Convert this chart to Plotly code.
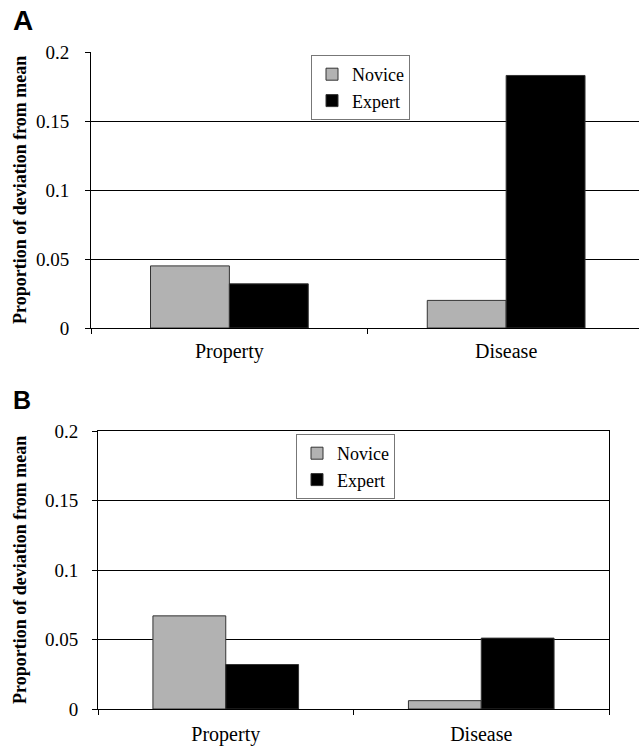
import plotly.graph_objects as go

# Deviation-from-mean proportions per task, for each group and panel
categories = ["Property", "Disease"]
groups = ["Novice", "Expert"]
panel_a_novice = [0.045, 0.020]
panel_a_expert = [0.032, 0.183]
panel_b_novice = [0.067, 0.006]
panel_b_expert = [0.032, 0.051]
y_ticks = [0, 0.05, 0.1, 0.15, 0.2]
y_tick_text = ["0", "0.05", "0.1", "0.15", "0.2"]

SERIF = "Liberation Serif"
SANS = "Liberation Sans"
colors = {"Novice": "#b2b2b2", "Expert": "#000000"}

fig = go.Figure()

panels = [
    ("x", "y", "legend", panel_a_novice, panel_a_expert),
    ("x2", "y2", "legend2", panel_b_novice, panel_b_expert),
]
for xa, ya, leg, nov, exp in panels:
    for name, vals in zip(groups, [nov, exp]):
        fig.add_trace(go.Bar(
            x=categories, y=vals, name=name, xaxis=xa, yaxis=ya, legend=leg,
            marker=dict(color=colors[name], line=dict(color="#333333", width=1)),
        ))

W, H = 639, 746

def px_x(v):
    return v / W

def px_y(v):
    return 1 - v / H

axis_common = dict(
    automargin=False,
    showline=True, linecolor="black", linewidth=1,
    ticks="outside", ticklen=5, tickcolor="black", tickwidth=1,
    zeroline=False,
)

legend_common = dict(
    xanchor="left", yanchor="top",
    bgcolor="white", bordercolor="#777777", borderwidth=1,
    font=dict(family=SERIF, size=18, color="black"),
    itemwidth=30, tracegroupgap=0,
)

fig.update_layout(
    template="none",
    width=W, height=H,
    margin=dict(l=0, r=0, t=0, b=0, autoexpand=False),
    font=dict(family=SERIF, color="black"),
    paper_bgcolor="white", plot_bgcolor="white",
    barmode="group", bargap=0.43, bargroupgap=0,
    showlegend=True,
    xaxis=dict(domain=[px_x(91), 1.0], anchor="y", type="category",
               range=[-0.5, 1.48], tickson="boundaries", showgrid=False,
               tickfont=dict(family=SERIF, size=20, color="black"),
               ticklabelstandoff=5, **axis_common),
    yaxis=dict(domain=[px_y(328), px_y(52)], anchor="x", range=[0, 0.2],
               tickvals=y_ticks, ticktext=y_tick_text,
               showgrid=True, gridcolor="black", gridwidth=1,
               tickfont=dict(family=SERIF, size=19, color="black"),
               ticklabelstandoff=12, **axis_common),
    xaxis2=dict(domain=[px_x(98), px_x(609)], anchor="y2", type="category",
                range=[-0.5, 1.5], tickson="boundaries", mirror=True, showgrid=False,
                tickfont=dict(family=SERIF, size=20, color="black"),
                ticklabelstandoff=7, **axis_common),
    yaxis2=dict(domain=[px_y(709), px_y(431)], anchor="x2", range=[0, 0.2],
                tickvals=y_ticks, ticktext=y_tick_text, mirror=True,
                showgrid=True, gridcolor="black", gridwidth=1,
                tickfont=dict(family=SERIF, size=19, color="black"),
                ticklabelstandoff=10, **axis_common),
    legend=dict(x=px_x(311), y=px_y(55), **legend_common),
    legend2=dict(x=px_x(296), y=px_y(434), **legend_common),
)

ytitle = "Proportion of deviation from mean"
annotations = [
    dict(text="<b>A</b>", x=px_x(23), y=px_y(20), xanchor="center", yanchor="middle",
         font=dict(family=SANS, size=28, color="black")),
    dict(text="<b>B</b>", x=px_x(22), y=px_y(400), xanchor="center", yanchor="middle",
         font=dict(family=SANS, size=25, color="black")),
    dict(text="<b>" + ytitle + "</b>", x=px_x(20), y=px_y(190), textangle=-90,
         xanchor="center", yanchor="middle",
         font=dict(family=SERIF, size=18, color="black")),
    dict(text="<b>" + ytitle + "</b>", x=px_x(20), y=px_y(570), textangle=-90,
         xanchor="center", yanchor="middle",
         font=dict(family=SERIF, size=18, color="black")),
]
for a in annotations:
    a.update(xref="paper", yref="paper", showarrow=False)
fig.update_layout(annotations=annotations)

fig.write_html("out.html")
